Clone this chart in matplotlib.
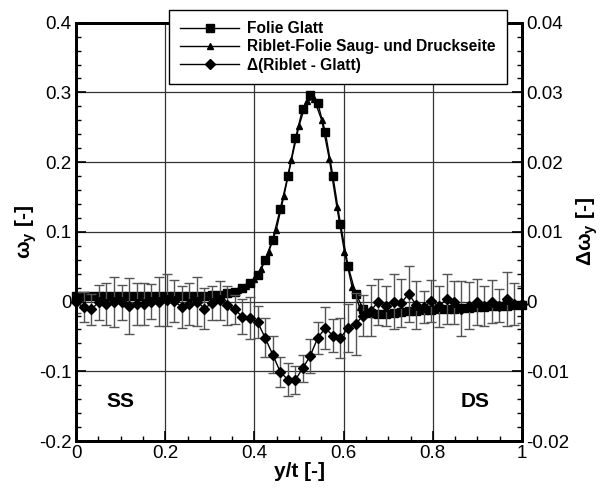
import matplotlib
matplotlib.use("Agg")
import matplotlib.pyplot as plt
from matplotlib.ticker import MultipleLocator, FuncFormatter

plt.rcParams['font.family'] = ['Liberation Sans', 'DejaVu Sans']
plt.rcParams['mathtext.fontset'] = 'custom'
plt.rcParams['mathtext.rm'] = 'Liberation Sans'
plt.rcParams['mathtext.it'] = 'Liberation Sans:italic'
plt.rcParams['mathtext.bf'] = 'Liberation Sans:bold'

# ---- data ----
x_glatt = [0.000, 0.017, 0.034, 0.051, 0.068, 0.085, 0.102, 0.119, 0.136, 0.153,
           0.169, 0.186, 0.203, 0.220, 0.237, 0.254, 0.271, 0.288, 0.305, 0.322,
           0.339, 0.356, 0.373, 0.390, 0.407, 0.424, 0.441, 0.458, 0.475, 0.492,
           0.508, 0.525, 0.542, 0.559, 0.576, 0.593, 0.610, 0.627, 0.644, 0.661,
           0.678, 0.695, 0.712, 0.729, 0.746, 0.763, 0.780, 0.797, 0.814, 0.831,
           0.847, 0.864, 0.881, 0.898, 0.915, 0.932, 0.949, 0.966, 0.983, 1.000]
y_glatt = [0.008, 0.008, 0.008, 0.008, 0.008, 0.008, 0.008, 0.008, 0.008, 0.008,
           0.008, 0.008, 0.008, 0.008, 0.008, 0.008, 0.008, 0.008, 0.009, 0.010,
           0.012, 0.014, 0.019, 0.027, 0.038, 0.060, 0.089, 0.133, 0.180, 0.234,
           0.276, 0.296, 0.285, 0.243, 0.180, 0.111, 0.051, 0.011, -0.010, -0.016,
           -0.018, -0.018, -0.017, -0.015, -0.014, -0.013, -0.012, -0.012, -0.011, -0.010,
           -0.010, -0.009, -0.009, -0.008, -0.008, -0.007, -0.006, -0.006, -0.005, -0.005]

x_riblet = [0.008, 0.025, 0.042, 0.059, 0.076, 0.093, 0.110, 0.127, 0.144, 0.161,
            0.178, 0.195, 0.212, 0.229, 0.246, 0.263, 0.280, 0.297, 0.314, 0.331,
            0.347, 0.364, 0.381, 0.398, 0.415, 0.432, 0.449, 0.466, 0.483, 0.500,
            0.517, 0.534, 0.551, 0.568, 0.585, 0.602, 0.619, 0.636, 0.653, 0.669,
            0.686, 0.703, 0.720, 0.737, 0.754, 0.771, 0.788, 0.805, 0.822, 0.839,
            0.856, 0.873, 0.890, 0.907, 0.924, 0.941, 0.958, 0.975, 0.992]
y_riblet = [0.008, 0.008, 0.008, 0.008, 0.008, 0.008, 0.008, 0.008, 0.008, 0.008,
            0.008, 0.008, 0.008, 0.008, 0.008, 0.008, 0.008, 0.008, 0.010, 0.012,
            0.014, 0.017, 0.023, 0.032, 0.046, 0.071, 0.103, 0.151, 0.203, 0.252,
            0.288, 0.290, 0.260, 0.204, 0.135, 0.071, 0.021, -0.008, -0.016, -0.018,
            -0.018, -0.017, -0.016, -0.014, -0.013, -0.012, -0.012, -0.011, -0.010, -0.010,
            -0.009, -0.009, -0.008, -0.008, -0.007, -0.006, -0.006, -0.005, -0.005]

x_delta = x_glatt
y_delta = [-0.0001, -0.0008, -0.0011, -0.0001, -0.0003, -0.0001, -0.0001, -0.0006, -0.0004, -0.0004,
           0.0000, 0.0000, 0.0002, 0.0001, -0.0008, -0.0003, 0.0000, -0.0010, -0.0002, 0.0002,
           -0.0005, -0.0011, -0.0022, -0.0024, -0.0029, -0.0052, -0.0076, -0.0101, -0.0112, -0.0112,
           -0.0096, -0.0078, -0.0052, -0.0038, -0.0049, -0.0052, -0.0038, -0.0032, -0.0020, -0.0013,
           0.0000, -0.0006, 0.0000, -0.0002, 0.0011, -0.0005, -0.0008, 0.0001, -0.0007, 0.0004,
           -0.0001, -0.0010, -0.0006, -0.0001, -0.0006, 0.0000, -0.0006, 0.0004, -0.0004, -0.0004]
err_delta = [0.0015, 0.0022, 0.0022, 0.0025, 0.0030, 0.0036, 0.0025, 0.0040, 0.0030, 0.0030,
             0.0025, 0.0035, 0.0037, 0.0030, 0.0030, 0.0030, 0.0035, 0.0030, 0.0025, 0.0028,
             0.0028, 0.0021, 0.0025, 0.0030, 0.0023, 0.0028, 0.0026, 0.0022, 0.0024, 0.0020,
             0.0019, 0.0025, 0.0023, 0.0030, 0.0024, 0.0029, 0.0035, 0.0044, 0.0030, 0.0037,
             0.0033, 0.0029, 0.0040, 0.0034, 0.0040, 0.0035, 0.0023, 0.0030, 0.0030, 0.0036,
             0.0031, 0.0040, 0.0034, 0.0033, 0.0029, 0.0031, 0.0024, 0.0039, 0.0030, 0.0027]

labels = ['Folie Glatt', 'Riblet-Folie Saug- und Druckseite', 'Δ(Riblet - Glatt)']

# ---- figure ----
fig = plt.figure(figsize=(6, 4.9), dpi=100)
ax = fig.add_axes([0.1267, 0.1, 0.7433, 0.8537])
ax2 = ax.twinx()

ax.set_xlim(0, 1)
ax.set_ylim(-0.2, 0.4)
ax2.set_ylim(-0.02, 0.04)

ax.grid(True, which='major', color='#333333', lw=0.9)
ax.set_axisbelow(True)

l1, = ax.plot(x_glatt, y_glatt, color='black', lw=1.0, marker='s', ms=5.5,
              label=labels[0], zorder=3, clip_on=False)
l2, = ax.plot(x_riblet, y_riblet, color='black', lw=1.0, marker='^', ms=5.0,
              label=labels[1], zorder=3, clip_on=False)
ax2.errorbar(x_delta, y_delta, yerr=err_delta, fmt='none', ecolor='#555555',
             elinewidth=1.0, capsize=3.5, capthick=1.0, zorder=2)
l3, = ax2.plot(x_delta, y_delta, color='black', lw=1.0, marker='D', ms=5.0,
               label=labels[2], zorder=3, clip_on=False)

fmt = FuncFormatter(lambda v, p: '%g' % round(v, 4))
ax.xaxis.set_major_locator(MultipleLocator(0.2))
ax.xaxis.set_minor_locator(MultipleLocator(0.05))
ax.yaxis.set_major_locator(MultipleLocator(0.1))
ax.yaxis.set_minor_locator(MultipleLocator(0.02))
ax2.yaxis.set_major_locator(MultipleLocator(0.01))
ax2.yaxis.set_minor_locator(MultipleLocator(0.002))
for a in (ax.xaxis, ax.yaxis, ax2.yaxis):
    a.set_major_formatter(fmt)

ax.tick_params(which='major', direction='in', length=7, width=1.2, labelsize=13.5,
               top=False, right=False, pad=3)
ax.tick_params(which='minor', direction='in', length=3.5, width=1.0, top=False, right=False)
ax2.tick_params(which='major', direction='in', length=7, width=1.2, labelsize=13.5, pad=3)
ax2.tick_params(which='minor', direction='in', length=3.5, width=1.0)

for a in (ax, ax2):
    for s in a.spines.values():
        s.set_linewidth(2.0)
        s.set_color('black')

ax.set_xlabel('y/t [-]', fontsize=15, fontweight='bold', labelpad=0)
ax.set_ylabel('ω$_\\mathregular{y}$ [-]', fontsize=15, fontweight='bold', labelpad=0)
ax2.set_ylabel('Δω$_\\mathregular{y}$ [-]', fontsize=15, fontweight='bold', labelpad=4)

ax.text(0.099, -0.144, 'SS', fontsize=15, fontweight='bold', ha='center', va='center')
ax.text(0.894, -0.144, 'DS', fontsize=15, fontweight='bold', ha='center', va='center')

leg = fig.legend(handles=[l1, l2, l3], loc='upper right',
                 bbox_to_anchor=(507 / 600, 1 - 10 / 490),
                 borderaxespad=0, frameon=True, fancybox=False, framealpha=1,
                 edgecolor='black', handlelength=3.8, handletextpad=0.5,
                 prop={'weight': 'bold', 'size': 11.2}, labelspacing=0.2,
                 borderpad=0.73)
leg.get_frame().set_linewidth(1.0)

fig.savefig('out.png', dpi=100)
